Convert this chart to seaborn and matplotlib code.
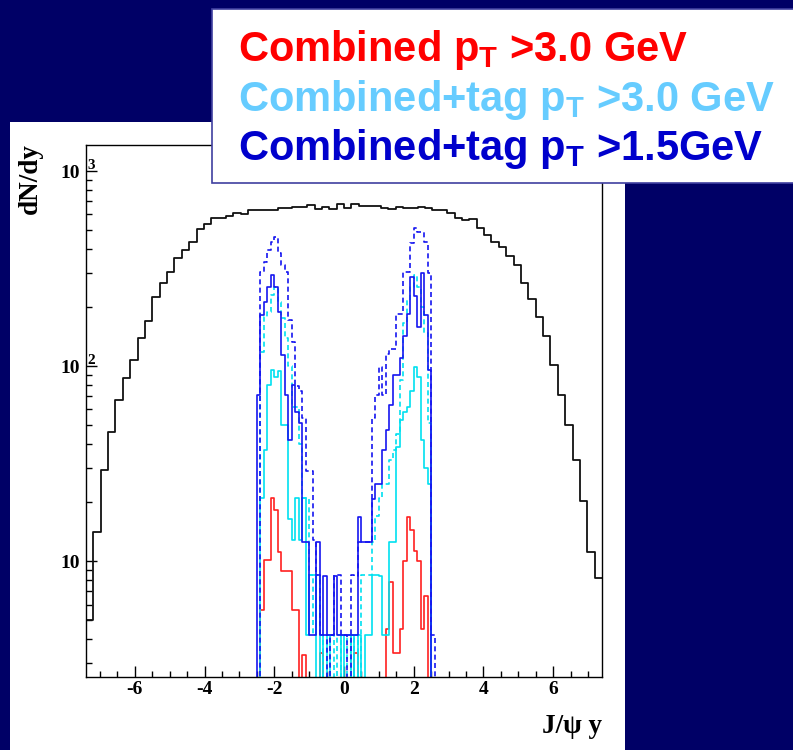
import numpy as np
import pandas as pd
import matplotlib
matplotlib.use("Agg")
import matplotlib.pyplot as plt
import matplotlib.transforms as mtransforms
from matplotlib.patches import Rectangle
from matplotlib.ticker import FixedLocator, LogLocator, NullFormatter
import seaborn as sns

# ---------------- data ----------------
x_range = (-7.4, 7.4)          # J/psi rapidity range of the histograms
n_all_bins = 70                # bins of the inclusive (black) histogram
y_range = (2.55, 1360)

# inclusive J/psi dN/dy (black), 70 bins over x_range
all_jpsi = [5.0, 14.1, 29.3, 45.9, 67, 86.8, 107, 139, 170, 226,
            267, 304, 358, 393, 433, 505, 535, 574, 574, 588,
            611, 601, 631, 631, 631, 631, 644, 644, 656, 656,
            670, 639, 656, 639, 675, 649, 675, 664, 664, 664,
            644, 637, 654, 649, 649, 656, 644, 629, 629, 607,
            576, 561, 568, 509, 470, 434, 409, 368, 330, 268,
            222, 178, 143, 101, 71, 50, 33, 20.3, 11.1, 8.2]

# selected samples: 0.1-wide bins, left edges from -2.6 to 2.6
sel_lo, sel_hi, sel_w = -2.6, 2.7, 0.1

red_comb30 = [0, 0, 5.6, 10.1, 10.1, 21, 18.3, 11.2, 8.9, 8.9,
              8.9, 5.6, 5.6, 0, 3.3, 0, 0, 0, 0, 3.4,
              0, 0, 0, 0, 0, 0, 0, 0, 0, 3.4,
              0, 0, 0, 0, 0, 0, 0, 0, 4.5, 7.8,
              3.4, 3.4, 4.5, 10.0, 16.9, 14.4, 11.3, 10.0, 4.5, 6.6,
              0, 0, 0]

cyan_tag30_solid = [0, 0, 21, 37, 80, 96, 88, 94, 50, 50,
                    16.5, 12.8, 21, 12.8, 21, 4.2, 8.5, 8.5, 0, 4.2,
                    0, 4.2, 0, 0, 0, 4.2, 0, 0, 4.2, 0,
                    4.2, 0, 4.2, 4.2, 8.5, 8.5, 8.4, 4.2, 4.2, 12.6,
                    12.6, 38.6, 52.8, 58, 62, 75, 99, 88, 42, 30,
                    25, 0, 0]

cyan_tag30_dashed = [0, 0, 118, 179, 190, 231, 255, 214, 176, 139,
                     100, 62, 62, 40, 21, 21, 8.5, 4.2, 8.5, 4.2,
                     0, 0, 4.2, 0, 4.2, 0, 0, 4.2, 0, 4.2,
                     0, 8.5, 8.5, 8.5, 12.6, 17, 21, 25, 25, 33,
                     37, 45, 85, 166, 218, 255, 293, 255, 202, 147,
                     51, 0, 0]

blue_tag15_solid = [0, 71, 183, 214, 255, 293, 255, 190, 114, 71,
                    41.8, 80, 58, 51, 12.6, 12.6, 4.2, 4.2, 12.6, 4.2,
                    8.4, 4.2, 4.2, 8.4, 4.2, 4.2, 4.2, 4.2, 4.2, 4.2,
                    16.9, 12.6, 12.6, 12.6, 20.8, 25, 25, 37, 47, 63,
                    90, 90, 110, 142, 186, 287, 230, 159, 299, 183,
                    95, 0, 0]

blue_tag15_dashed = [0, 0, 305, 343, 396, 433, 457, 380, 330, 305,
                     173, 133, 79, 75, 54, 29, 29, 12.8, 8.5, 4.2,
                     4.2, 0, 4.2, 8.5, 8.5, 4.2, 4.2, 0, 8.5, 8.4,
                     12.6, 12.6, 12.6, 12.6, 54, 71, 99, 71, 116, 123,
                     123, 186, 186, 305, 305, 426, 508, 488, 488, 434,
                     299, 4.2, 0]

legend_lines = ["Combined p$_{\\rm T}$ >3.0 GeV",
                "Combined+tag p$_{\\rm T}$ >3.0 GeV",
                "Combined+tag p$_{\\rm T}$ >1.5GeV"]
legend_colors = ["#ff0000", "#66ccff", "#0000cc"]
x_ticks = [-6, -4, -2, 0, 2, 4, 6]
x_label = "J/\u03c8 y"
y_label = "dN/dy"

# ---------------- figure ----------------
W, H = 793, 750
DPI = 100
navy = "#000066"

plt.rcParams["mathtext.fontset"] = "custom"
plt.rcParams["mathtext.rm"] = "Liberation Sans:bold"
plt.rcParams["mathtext.it"] = "Liberation Sans:bold"
plt.rcParams["mathtext.bf"] = "Liberation Sans:bold"

fig = plt.figure(figsize=(W / DPI, H / DPI), dpi=DPI, facecolor=navy)

# white pad behind the plot
fig.patches.append(Rectangle((10 / W, 0), (625 - 10) / W, 1 - 121.7 / H,
                             transform=fig.transFigure, facecolor="white",
                             edgecolor="none", zorder=-5))

ax = fig.add_axes([86 / W, 1 - 677 / H, (602 - 86) / W, (677 - 145) / H])
ax.set_facecolor("white")

all_edges = np.linspace(x_range[0], x_range[1], n_all_bins + 1).tolist()
all_centers = [0.5 * (a + b) for a, b in zip(all_edges[:-1], all_edges[1:])]
sel_edges = np.round(np.arange(sel_lo, sel_hi + 1e-9, sel_w), 3).tolist()
sel_centers = [0.5 * (a + b) for a, b in zip(sel_edges[:-1], sel_edges[1:])]

df_all = pd.DataFrame({"y": all_centers, "w": all_jpsi})
sns.histplot(data=df_all, x="y", weights="w", bins=all_edges, element="step",
             fill=False, color="#111111", linewidth=1.3, ax=ax)

series = [
    (red_comb30, "#ff2020", "-"),
    (cyan_tag30_solid, "#00e0f0", "-"),
    (cyan_tag30_dashed, "#00e0f0", (0, (3, 2))),
    (blue_tag15_solid, "#1515f0", "-"),
    (blue_tag15_dashed, "#1515f0", (0, (3, 2))),
]
for vals, col, ls in series:
    d = pd.DataFrame({"y": sel_centers, "w": vals})
    sns.histplot(data=d, x="y", weights="w", bins=sel_edges, element="step",
                 fill=False, color=col, linewidth=1.2, linestyle=ls, ax=ax)

ax.set_yscale("log")
ax.set_xlim(*x_range)
ax.set_ylim(*y_range)
ax.set_xlabel("")
ax.set_ylabel("")

for s in ax.spines.values():
    s.set_linewidth(1.0)
    s.set_color("black")
    s.set_visible(True)

tick_font = dict(family="Liberation Serif", weight="bold", size=14)
ax.xaxis.set_major_locator(FixedLocator(x_ticks))
ax.xaxis.set_minor_locator(FixedLocator(np.arange(-7, 7.01, 0.5)))
ax.set_xticklabels([str(t) for t in x_ticks], fontdict=tick_font)
ax.yaxis.set_major_locator(FixedLocator([10, 100, 1000]))
ax.yaxis.set_minor_locator(LogLocator(base=10, subs=np.arange(2, 10), numticks=20))
ax.yaxis.set_minor_formatter(NullFormatter())
ax.set_yticklabels(["10", "10", "10"], fontdict=tick_font)
ax.tick_params(which="both", direction="in", top=False, right=False, width=1.0,
               color="black")
ax.tick_params(which="major", length=7.6)
ax.tick_params(which="minor", length=4.0)
ax.tick_params(axis="x", which="major", pad=3)
ax.tick_params(axis="y", which="major", pad=4.3)

# exponents of the log labels (ROOT style, right of the "10")
sup_tr = mtransforms.offset_copy(ax.get_yaxis_transform(), fig=fig, x=1, y=2,
                                 units="dots")
for val, exp in [(100, "2"), (1000, "3")]:
    ax.text(0, val, exp, transform=sup_tr, ha="left", va="baseline",
            family="Liberation Serif", weight="bold", fontsize=11,
            clip_on=False)

fig.text(602 / W, 1 - 733 / H, x_label, ha="right", va="baseline",
         family="Liberation Serif", weight="bold", fontsize=19.5)
fig.text(30 / W, 1 - 143 / H, y_label, ha="center", va="top", rotation=90,
         family="Liberation Serif", weight="bold", fontsize=19.5)

# legend box
fig.patches.append(Rectangle((212 / W, 1 - 183 / H), (W + 20 - 212) / W,
                             (183 - 9.5) / H, transform=fig.transFigure,
                             facecolor="white", edgecolor="#4040a0",
                             linewidth=1.2, zorder=5, clip_on=False))
for i, (txt, col) in enumerate(zip(legend_lines, legend_colors)):
    fig.text(238 / W, 1 - (61.5 + 49.3 * i) / H, txt, color=col, ha="left",
             va="baseline", family="Liberation Sans", weight="bold",
             fontsize=30, zorder=6)

fig.savefig("out.png", dpi=DPI, facecolor=navy)
